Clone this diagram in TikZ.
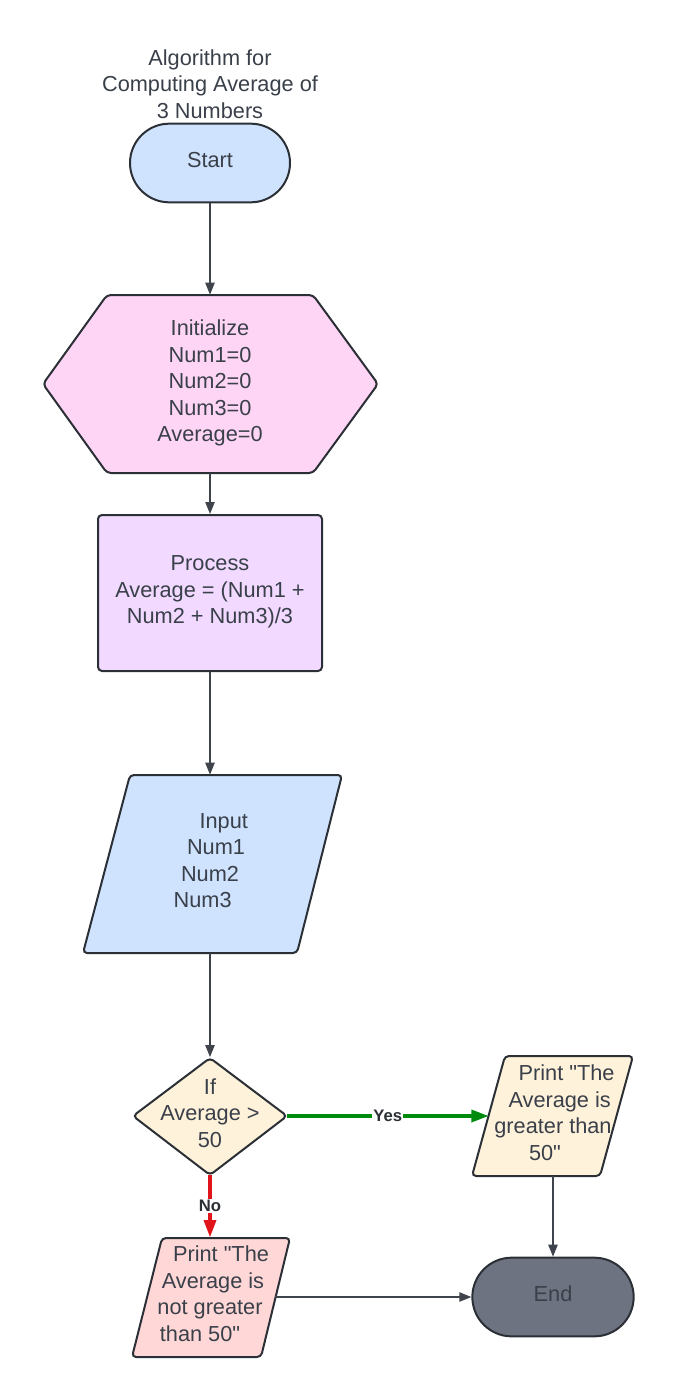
\documentclass[tikz,border=0pt]{standalone}
\usepackage{fontspec}
\setmainfont{Liberation Sans}[Ligatures=TeXOff]
\usetikzlibrary{arrows.meta, shapes.misc}
\tikzset{>={Triangle[length=9pt, width=7pt]}}

\definecolor{ink}{HTML}{2B2F36}
\definecolor{txtgray}{HTML}{3A404A}
\definecolor{linegray}{HTML}{3E434C}
\definecolor{startblue}{HTML}{CFE3FE}
\definecolor{initpink}{HTML}{FFD5F5}
\definecolor{procpurple}{HTML}{F1D9FF}
\definecolor{decyellow}{HTML}{FFF2DA}
\definecolor{nopink}{HTML}{FFD7D7}
\definecolor{endgray}{HTML}{6D7380}
\definecolor{yesgreen}{HTML}{008A0E}
\definecolor{nored}{HTML}{E0141A}

\tikzset{
    txt/.style={text=txtgray, font=\fontsize{16.3pt}{19.9pt}\selectfont, align=center, inner sep=0pt},
    boxtxt/.style={txt, text depth=5pt},
    outline/.style={draw=ink, line width=1.5pt},
    terminal/.style={boxtxt, outline, rounded rectangle, minimum width=120pt, minimum height=59pt},
    flow/.style={->, draw=linegray, line width=1pt},
    branch/.style={line width=2.5pt, -{Triangle[length=13pt, width=9pt]}},
    answer/.style={fill=white, text=ink, inner sep=1pt, font=\bfseries\fontsize{12.5pt}{14pt}\selectfont}
}

\begin{document}
\begin{tikzpicture}[x=0.75pt, y=-0.75pt]
    \useasboundingbox (0,0) rectangle (674,1398);

    % title and start
    \node[txt] (title) at (210,84) {Algorithm for\\Computing Average of\\3 Numbers};
    \node[terminal, fill=startblue] (start) at (210,163) {Start};

    % initialize (hexagon)
    \draw[outline, fill=initpink, rounded corners=3pt]
        (43,384) -- (107,295) -- (313,295) -- (378,384) -- (313,473) -- (107,473) -- cycle;
    \node[boxtxt, minimum width=252pt, minimum height=133.5pt] (init) at (210,384)
        {Initialize\\Num1=0\\Num2=0\\Num3=0\\Average=0};

    % process
    \node[boxtxt, outline, rounded corners=3pt, fill=procpurple,
          minimum width=168pt, minimum height=117pt] (proc) at (210,593)
        {Process\\Average = (Num1 +\\Num2 + Num3)/3};

    % input (parallelogram)
    \draw[outline, fill=startblue, rounded corners=3pt]
        (130,775) -- (342,775) -- (297,953) -- (83,953) -- cycle;
    \node[boxtxt, minimum width=160pt, minimum height=133.5pt] (input) at (210,864)
        {\hspace*{20.6pt}Input\\\hspace*{9pt}Num1\\Num2\\Num3\hspace*{11pt}};

    % decision
    \draw[outline, fill=decyellow, rounded corners=3pt]
        (210,1058) -- (287,1116) -- (210,1175) -- (133,1116) -- cycle;
    \node[boxtxt, minimum width=114.75pt, minimum height=88pt] (dec) at (210,1116)
        {If\\Average >\\50};

    % print yes
    \draw[outline, fill=decyellow, rounded corners=3pt]
        (505,1056) -- (633,1056) -- (600,1176) -- (472,1176) -- cycle;
    \node[boxtxt, minimum width=96pt, minimum height=90pt] (yes) at (553,1116)
        {\hspace*{20.4pt}Print "The\\\hspace*{10pt}Average is\\greater than\\50"\hspace*{12pt}};

    % print no
    \draw[outline, fill=nopink, rounded corners=3pt]
        (162,1238) -- (290,1238) -- (261,1357) -- (132,1357) -- cycle;
    \node[boxtxt, minimum width=97pt, minimum height=89pt] (notgt) at (210,1297)
        {\hspace*{16.5pt}Print "The\\\hspace*{4.5pt}Average is\\not greater\hspace*{5pt}\\than 50"\hspace*{15pt}};

    % end
    \node[terminal, fill=endgray, minimum width=121pt, text=txtgray] (end) at (553,1297) {End};

    % connectors
    \draw[flow] (start.south) -- (init.north);
    \draw[flow] (init.south) -- (proc.north);
    \draw[flow] (proc.south) -- (input.north);
    \draw[flow] (input.south) -- (dec.north);
    \draw[branch, draw=yesgreen, fill=yesgreen] (dec.east) -- node[answer] {Yes} (yes.west);
    \draw[branch, draw=nored, fill=nored] (dec.south) -- node[answer] {No} (notgt.north);
    \draw[flow] (yes.south) -- (end.north);
    \draw[flow] (notgt.east) -- (end.west);
\end{tikzpicture}
\end{document}
